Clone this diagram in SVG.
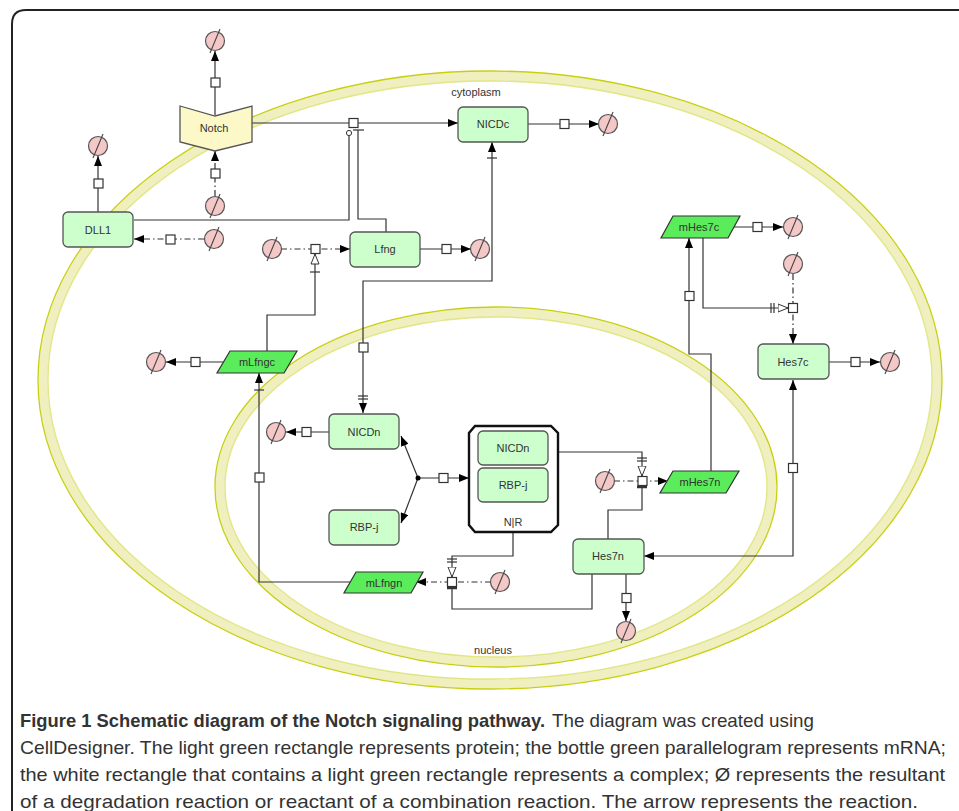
<svg xmlns="http://www.w3.org/2000/svg" width="959" height="811" viewBox="0 0 959 811">
<style>
.ln{fill:none;stroke:#333;stroke-width:1.2}
.dd{fill:none;stroke:#333;stroke-width:1.2;stroke-dasharray:6 3 1.5 3}
.bar{stroke:#333;stroke-width:1.2}
.tbar{stroke:#333;stroke-width:2.5}
.sq{fill:#fff;stroke:#333;stroke-width:1.2}
.prot{fill:#ccffcc;stroke:#555;stroke-width:1.3}
.mrna{fill:#5bec5b;stroke:#333;stroke-width:1.2}
.lbl{font-family:"Liberation Sans",Arial,sans-serif;font-size:11px;fill:#333;text-anchor:middle}
.comp{fill:none;stroke:#efefc0;stroke-width:9}
.compe{fill:none;stroke:#c8cf10;stroke-width:1.3}
.cap{font-family:"Liberation Sans",Arial,sans-serif;font-size:19px;fill:#333}
</style>
<defs>
<marker id="ar" viewBox="0 0 10 8" refX="10" refY="4" markerWidth="10" markerHeight="8" markerUnits="userSpaceOnUse" orient="auto-start-reverse"><path d="M0,0 L10,4 L0,8 z" fill="#000"/></marker>
<marker id="op" viewBox="0 0 11 10" refX="10.5" refY="5" markerWidth="11" markerHeight="10" markerUnits="userSpaceOnUse" orient="auto"><path d="M0.5,1 L10.5,5 L0.5,9 z" fill="#fff" stroke="#333" stroke-width="1"/></marker>
<g id="degsym"><circle cx="0" cy="0" r="9.5" fill="#f5c8c8" stroke="#555" stroke-width="1.2"/><line x1="-5" y1="12" x2="5" y2="-12" stroke="#444" stroke-width="1.1"/></g>
</defs>
<rect width="959" height="811" fill="#fff"/>
<path d="M12,811 V24 Q12,10 26,10 H959" fill="none" stroke="#222" stroke-width="2"/>

<g id="cytoplasm">
<ellipse class="comp" cx="490" cy="380" rx="447" ry="304"/>
<ellipse class="compe" cx="490" cy="380" rx="452" ry="309"/>
<ellipse class="compe" cx="490" cy="380" rx="442" ry="299" stroke-opacity="0.5"/>
<text class="lbl" x="476" y="96">cytoplasm</text>
</g>
<g id="nucleus">
<ellipse class="comp" cx="496" cy="487" rx="276" ry="175"/>
<ellipse class="compe" cx="496" cy="487" rx="281" ry="180"/>
<ellipse class="compe" cx="496" cy="487" rx="271" ry="170" stroke-opacity="0.5"/>
<text class="lbl" x="493" y="654">nucleus</text>
</g>

<g id="connectors">
<path class="ln" d="M215,115 V51" marker-end="url(#ar)"/>
<path class="dd" d="M215,196 V151" marker-end="url(#ar)"/>
<path class="ln" d="M98,212 V156" marker-end="url(#ar)"/>
<path class="dd" d="M204,239 H134" marker-end="url(#ar)"/>
<path class="ln" d="M134,220 H349 V136"/>
<circle cx="349" cy="133" r="2.6" fill="#fff" stroke="#333" stroke-width="1"/>
<path class="ln" d="M252,123 H458" marker-end="url(#ar)"/>
<path class="ln" d="M386,232 V219 H358 V130"/>
<line class="bar" x1="353" y1="130" x2="364" y2="130"/>
<path class="ln" d="M528,124 H599" marker-end="url(#ar)"/>
<path class="ln" d="M492,142 V281 H363 V413" marker-start="url(#ar)" marker-end="url(#ar)"/>
<line class="bar" x1="487" y1="158" x2="497" y2="158"/>
<line class="bar" x1="358" y1="396" x2="368" y2="396"/>
<line class="bar" x1="358" y1="399" x2="368" y2="399"/>
<path class="ln" d="M420,249 H471" marker-end="url(#ar)"/>
<path class="dd" d="M281,249 H350" marker-end="url(#ar)"/>
<path class="ln" d="M267,351 V315 H315 V254" marker-end="url(#op)"/>
<line class="bar" x1="310" y1="272" x2="320" y2="272"/>
<path class="ln" d="M223,362 H166" marker-end="url(#ar)"/>
<path class="ln" d="M351,582 H259 V373" marker-end="url(#ar)"/>
<line class="bar" x1="254" y1="390" x2="264" y2="390"/>
<path class="ln" d="M329,432 H286" marker-end="url(#ar)"/>
<path class="ln" d="M418,478 L401,436" marker-end="url(#ar)"/>
<path class="ln" d="M418,478 L401,523" marker-end="url(#ar)"/>
<path class="ln" d="M418,478 H469" marker-end="url(#ar)"/>
<circle cx="418" cy="478" r="2.5" fill="#000"/>
<path class="dd" d="M614,481 H668" marker-end="url(#ar)"/>
<path class="ln" d="M558,452 H642 V476" marker-end="url(#op)"/>
<line class="bar" x1="637" y1="458" x2="647" y2="458"/>
<line class="bar" x1="637" y1="461" x2="647" y2="461"/>
<path class="ln" d="M608,539 V510 H642 V486"/>
<line class="tbar" x1="637" y1="487" x2="647" y2="487"/>
<path class="ln" d="M711,471 V354 H689 V238" marker-end="url(#ar)"/>
<path class="ln" d="M734,227 H783" marker-end="url(#ar)"/>
<path class="dd" d="M793,274 V344" marker-end="url(#ar)"/>
<path class="ln" d="M703,238 V308 H788" marker-end="url(#op)"/>
<line class="bar" x1="771" y1="303" x2="771" y2="313"/>
<line class="bar" x1="774" y1="303" x2="774" y2="313"/>
<path class="ln" d="M829,362 H880" marker-end="url(#ar)"/>
<path class="ln" d="M644,556 H793 V380" marker-start="url(#ar)" marker-end="url(#ar)"/>
<path class="ln" d="M626,574 V621" marker-end="url(#ar)"/>
<path class="dd" d="M491,582 H416" marker-end="url(#ar)"/>
<path class="ln" d="M513,532 V556 H452 V577" marker-end="url(#op)"/>
<line class="bar" x1="447" y1="559" x2="457" y2="559"/>
<line class="bar" x1="447" y1="562" x2="457" y2="562"/>
<path class="ln" d="M592,574 V609 H452 V587"/>
<line class="tbar" x1="447" y1="588" x2="457" y2="588"/>
<g id="processes">
<rect class="sq" x="211" y="78" width="9" height="9"/>
<rect class="sq" x="211" y="169" width="9" height="9"/>
<rect class="sq" x="94" y="179" width="9" height="9"/>
<rect class="sq" x="166" y="235" width="9" height="9"/>
<rect class="sq" x="349" y="118.5" width="9" height="9"/>
<rect class="sq" x="560" y="119.5" width="9" height="9"/>
<rect class="sq" x="359" y="343" width="9" height="9"/>
<rect class="sq" x="442" y="244.5" width="9" height="9"/>
<rect class="sq" x="311" y="244.5" width="9" height="9"/>
<rect class="sq" x="191" y="357.5" width="9" height="9"/>
<rect class="sq" x="255" y="473" width="9" height="9"/>
<rect class="sq" x="302" y="427.5" width="9" height="9"/>
<rect class="sq" x="439" y="473.5" width="9" height="9"/>
<rect class="sq" x="638" y="476.5" width="9" height="9"/>
<rect class="sq" x="685" y="291.5" width="9" height="9"/>
<rect class="sq" x="753" y="222.5" width="9" height="9"/>
<rect class="sq" x="788.5" y="303.5" width="9" height="9"/>
<rect class="sq" x="851" y="357.5" width="9" height="9"/>
<rect class="sq" x="788.5" y="463.5" width="9" height="9"/>
<rect class="sq" x="622" y="593.5" width="9" height="9"/>
<rect class="sq" x="447.5" y="577.5" width="9" height="9"/>
</g>
</g>

<g id="degradations">
<use href="#degsym" x="215" y="41"/>
<use href="#degsym" x="215" y="206"/>
<use href="#degsym" x="98" y="146"/>
<use href="#degsym" x="214" y="239"/>
<use href="#degsym" x="608" y="124"/>
<use href="#degsym" x="480" y="249"/>
<use href="#degsym" x="272" y="249"/>
<use href="#degsym" x="156" y="362"/>
<use href="#degsym" x="276" y="432"/>
<use href="#degsym" x="605" y="481"/>
<use href="#degsym" x="793" y="227"/>
<use href="#degsym" x="793" y="264"/>
<use href="#degsym" x="890" y="362"/>
<use href="#degsym" x="626" y="631"/>
<use href="#degsym" x="500" y="582"/>
</g>

<g id="Notch">
<path d="M180,106 L215,116 L252,106 V142 L215,151 L180,142 Z" fill="#fcf8c8" stroke="#555" stroke-width="1.3"/>
<text class="lbl" x="214" y="132">Notch</text>
</g>
<g id="DLL1">
<rect class="prot" x="63" y="212" width="70" height="35" rx="5"/>
<text class="lbl" x="98" y="234">DLL1</text>
</g>
<g id="NICDc">
<rect class="prot" x="458" y="107" width="70" height="35" rx="5"/>
<text class="lbl" x="493" y="128">NICDc</text>
</g>
<g id="Lfng">
<rect class="prot" x="350" y="232" width="70" height="35" rx="5"/>
<text class="lbl" x="385" y="253">Lfng</text>
</g>
<g id="mLfngc">
<polygon class="mrna" points="230,351 297,351 284,373 217,373"/>
<text class="lbl" x="257" y="366">mLfngc</text>
</g>
<g id="NICDn">
<rect class="prot" x="329" y="414" width="70" height="35" rx="5"/>
<text class="lbl" x="364" y="436">NICDn</text>
</g>
<g id="RBP-j">
<rect class="prot" x="329" y="510" width="70" height="35" rx="5"/>
<text class="lbl" x="364" y="531">RBP-j</text>
</g>
<g id="NR">
<path d="M475,426 H551 L558,433 V525 L551,532 H475 L469,525 V433 Z" fill="#fff" stroke="#111" stroke-width="2.4"/>
<rect class="prot" x="478" y="431" width="70" height="34" rx="5"/>
<text class="lbl" x="513" y="452">NICDn</text>
<rect class="prot" x="478" y="468" width="70" height="34" rx="5"/>
<text class="lbl" x="513" y="489">RBP-j</text>
<text class="lbl" x="513" y="526">N|R</text>
</g>
<g id="mHes7n">
<polygon class="mrna" points="673,471 739,471 726,493 660,493"/>
<text class="lbl" x="700" y="486">mHes7n</text>
</g>
<g id="mHes7c">
<polygon class="mrna" points="673,216 740,216 728,238 661,238"/>
<text class="lbl" x="699" y="231">mHes7c</text>
</g>
<g id="Hes7c">
<rect class="prot" x="758" y="344" width="71" height="35" rx="5"/>
<text class="lbl" x="793" y="366">Hes7c</text>
</g>
<g id="Hes7n">
<rect class="prot" x="573" y="539" width="71" height="35" rx="5"/>
<text class="lbl" x="608" y="560">Hes7n</text>
</g>
<g id="mLfngn">
<polygon class="mrna" points="356,572 423,572 411,593 344,593"/>
<text class="lbl" x="384" y="587">mLfngn</text>
</g>

<g id="caption">
<text class="cap" x="20" y="727" font-weight="bold" fill="#222" textLength="525" lengthAdjust="spacingAndGlyphs">Figure 1 Schematic diagram of the Notch signaling pathway.</text>
<text class="cap" x="552" y="727" textLength="262" lengthAdjust="spacingAndGlyphs">The diagram was created using</text>
<text class="cap" x="20" y="754" textLength="926" lengthAdjust="spacingAndGlyphs">CellDesigner. The light green rectangle represents protein; the bottle green parallelogram represents mRNA;</text>
<text class="cap" x="20" y="781" textLength="925" lengthAdjust="spacingAndGlyphs">the white rectangle that contains a light green rectangle represents a complex; Ø represents the resultant</text>
<text class="cap" x="20" y="808" textLength="898" lengthAdjust="spacingAndGlyphs">of a degradation reaction or reactant of a combination reaction. The arrow represents the reaction.</text>
</g>
</svg>
